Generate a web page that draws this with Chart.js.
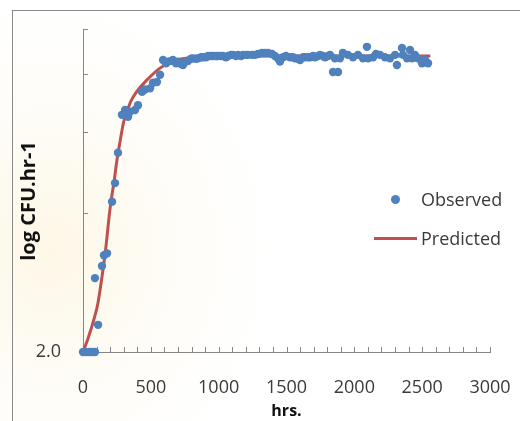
<!DOCTYPE html>
<html>
<head>
<meta charset="utf-8">
<script src="https://cdn.jsdelivr.net/npm/chart.js@4/dist/chart.umd.min.js"></script>
<style>
  body { margin: 0; background: #fff; }
  #wrap {
    position: relative; width: 520px; height: 421px; overflow: hidden;
    background: radial-gradient(ellipse 230px 260px at 50px 250px, rgba(250,238,200,0.45) 0, rgba(252,245,225,0.25) 55%, rgba(255,255,255,0) 100%);
  }
  #frame {
    position: absolute; left: 12px; top: 10px; width: 600px; height: 500px;
    border-top: 1.5px solid #8a8a8a; border-left: 1.5px solid #8a8a8a;
  }
  canvas { position: absolute; left: 0; top: 0; }
  .lbl { position: absolute; font: 18px "Open Sans", sans-serif; color: #3a3a3a; line-height: 20px; }
  .dot { position: absolute; width: 9px; height: 9px; border-radius: 50%; background: #4f81bd; }
  .bar { position: absolute; height: 3px; background: #c0504d; }
</style>
</head>
<body>
<div id="wrap">
  <div id="frame"></div>
  <canvas id="chart" width="520" height="421"></canvas>
  <div class="dot" style="left:391px; top:195px"></div>
  <div class="lbl" style="left:421px; top:189px">Observed</div>
  <div class="bar" style="left:374px; top:237px; width:43px"></div>
  <div class="lbl" style="left:421px; top:228px">Predicted</div>
</div>
<script>
// observed points (hrs, log CFU)
const obsHours = [0,22,44,66,88,88,111,140,155,177,214,236,258,287,310,332,346,383,405,435,
  457,494,516,545,568,590,612,627,649,663,686,700,722,737,759,774,796,811,833,848,
  870,885,907,921,943,958,980,995,1017,1032,1054,1069,1091,1106,1128,1143,1165,1179,1201,1216,
  1246,1268,1290,1319,1342,1364,1393,1415,1437,1452,1474,1496,1526,1548,1563,1585,1600,1622,1636,1658,
  1673,1695,1710,1732,1747,1769,1784,1806,1821,1843,1857,1880,1894,1916,1953,1990,2027,2064,2093,2101,
  2138,2160,2189,2226,2263,2300,2314,2351,2359,2388,2410,2425,2447,2469,2499,2521,2543];
const obsLog = [2.00,2.00,2.00,2.00,2.00,2.89,2.29,3.07,3.24,3.27,4.23,4.64,5.40,6.52,6.68,6.46,6.62,6.68,6.84,7.31,
  7.40,7.44,7.65,7.68,7.96,8.57,8.43,8.50,8.53,8.57,8.43,8.50,8.40,8.36,8.50,8.53,8.62,8.64,8.62,8.64,
  8.69,8.69,8.69,8.74,8.74,8.74,8.74,8.74,8.74,8.74,8.69,8.74,8.79,8.79,8.74,8.79,8.74,8.79,8.79,8.79,
  8.79,8.79,8.83,8.88,8.88,8.88,8.83,8.74,8.64,8.50,8.69,8.74,8.69,8.69,8.64,8.62,8.57,8.69,8.69,8.69,
  8.69,8.74,8.69,8.74,8.79,8.74,8.69,8.74,8.79,8.07,8.64,8.07,8.64,8.88,8.79,8.69,8.79,8.64,9.15,8.64,
  8.69,8.83,8.79,8.69,8.64,8.79,8.36,9.10,8.79,8.64,9.01,8.64,8.79,8.64,8.43,8.57,8.43];

// predicted curve
const predHours = [0,37,80,110,140,165,200,230,250,275,300,350,400,470,560,660,800,1000,1500,2000,2560];
const predLog = [2.00,2.14,2.35,2.55,2.91,3.30,4.10,4.70,5.20,5.75,6.30,6.95,7.35,7.75,8.20,8.52,8.68,8.73,8.74,8.74,8.74];

// axes
const yTickValues = [2, 4, 6, 8, 10];
const yTickLabels = ['2.0', '', '', '', ''];
const xLabelEvery = 500;

const axisGray = '#868686';
const textColor = '#3a3a3a';
const fam = '"Open Sans", sans-serif';

// small tick marks pointing into the plot, like the original
const innerTicks = {
  id: 'innerTicks',
  beforeDatasetsDraw(chart) {
    const { ctx, chartArea, scales } = chart;
    ctx.save();
    ctx.strokeStyle = axisGray;
    ctx.lineWidth = 1;
    ctx.beginPath();
    scales.x.ticks.forEach(t => {
      const px = Math.round(scales.x.getPixelForValue(t.value)) + 0.5;
      ctx.moveTo(px, chartArea.bottom);
      ctx.lineTo(px, chartArea.bottom - 5);
    });
    scales.y.ticks.forEach(t => {
      const py = Math.round(scales.y.getPixelForValue(t.value)) + 0.5;
      ctx.moveTo(chartArea.left, py);
      ctx.lineTo(chartArea.left + 5, py);
    });
    ctx.stroke();
    ctx.restore();
  }
};

// y title, centred a little below the axis middle as in the original
const yTitle = {
  id: 'yTitle',
  afterDraw(chart) {
    const { ctx } = chart;
    ctx.save();
    ctx.translate(29, 201);
    ctx.rotate(-Math.PI / 2);
    ctx.font = 'bold 20px ' + fam;
    ctx.fillStyle = '#111';
    ctx.textAlign = 'center';
    ctx.textBaseline = 'middle';
    ctx.fillText('log CFU.hr-1', 0, 0);
    ctx.restore();
  }
};

new Chart(document.getElementById('chart'), {
  type: 'scatter',
  data: {
    datasets: [
      {
        label: 'Observed',
        data: obsHours.map((h, i) => ({ x: h, y: obsLog[i] })),
        backgroundColor: '#4f81bd',
        borderWidth: 0,
        pointRadius: 4.2,
        clip: false
      },
      {
        label: 'Predicted',
        data: predHours.map((h, i) => ({ x: h, y: predLog[i] })),
        showLine: true,
        borderColor: '#c0504d',
        borderWidth: 3,
        pointRadius: 0,
        cubicInterpolationMode: 'monotone',
        clip: false
      }
    ]
  },
  options: {
    responsive: false,
    animation: false,
    layout: { padding: { left: 0, top: 29, right: 30, bottom: 0 } },
    plugins: { legend: { display: false }, tooltip: { enabled: false } },
    scales: {
      x: {
        type: 'linear',
        min: 0, max: 3000,
        afterFit: s => { s.height = 69; s.paddingRight = 0; s.paddingLeft = 0; },
        grid: { display: false },
        border: { color: axisGray, width: 1 },
        ticks: {
          stepSize: 100, autoSkip: false, maxRotation: 0,
          padding: 17, color: textColor,
          font: { family: fam, size: 18 },
          callback: v => (v % xLabelEvery === 0 ? v : '')
        },
        title: {
          display: true, text: 'hrs.', color: '#111',
          font: { family: fam, size: 16, weight: 'bold' },
          padding: 0
        }
      },
      y: {
        type: 'logarithmic',
        min: 2, max: 10,
        afterFit: s => { s.width = 83; s.paddingTop = 0; s.paddingBottom = 0; },
        afterBuildTicks: s => { s.ticks = yTickValues.map(v => ({ value: v })); },
        grid: { display: false },
        border: { color: axisGray, width: 1 },
        ticks: {
          padding: 14, color: textColor,
          font: { family: fam, size: 18 },
          callback: v => {
            const i = yTickValues.indexOf(v);
            return i >= 0 ? yTickLabels[i] : '';
          }
        }
      }
    }
  },
  plugins: [innerTicks, yTitle]
});
</script>
</body>
</html>
